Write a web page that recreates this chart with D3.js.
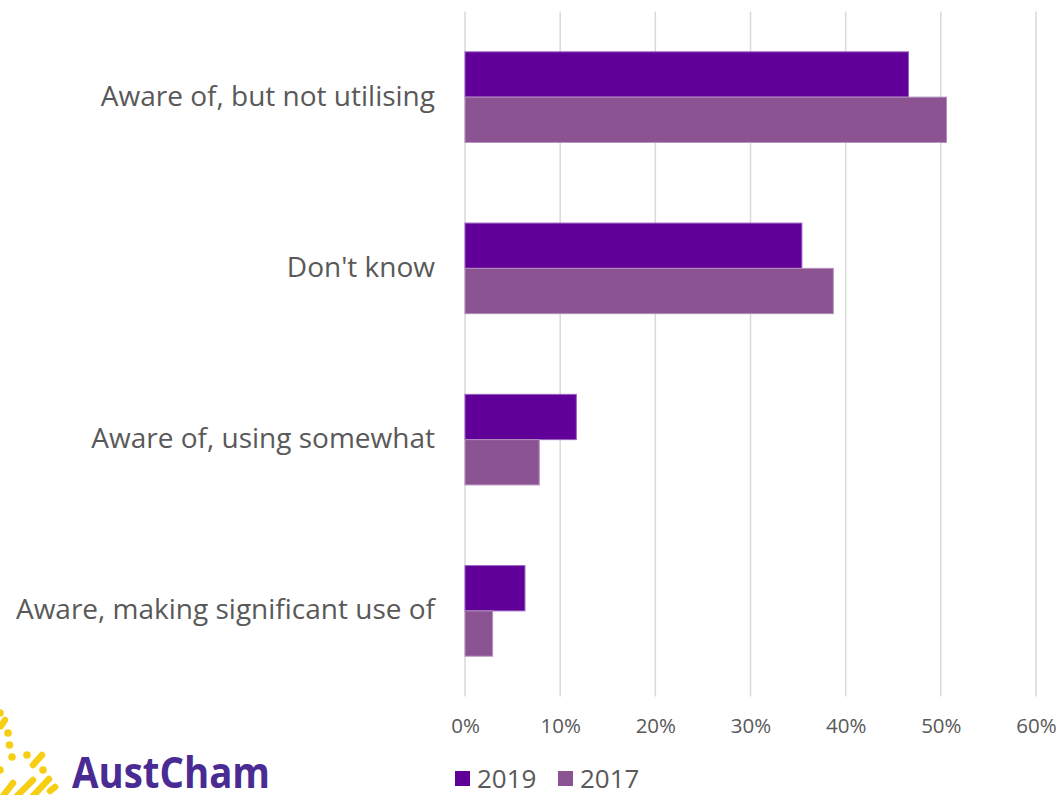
<!DOCTYPE html>
<html>
<head>
<meta charset="utf-8">
<script src="https://cdn.jsdelivr.net/npm/d3@7/dist/d3.min.js"></script>
<style>
  html, body { margin: 0; padding: 0; background: #ffffff; }
  svg { display: block; }
  text { font-family: "Open Sans", "Lato", sans-serif; }
</style>
</head>
<body>
<svg id="chart" width="1058" height="795"></svg>
<script>
// Survey responses by awareness level, share of respondents
const categories = [
  "Aware of, but not utilising",
  "Don't know",
  "Aware of, using somewhat",
  "Aware, making significant use of"
];
const seriesNames = ["2019", "2017"];
const values2019 = [0.466, 0.354, 0.117, 0.063];
const values2017 = [0.506, 0.387, 0.078, 0.029];
const xTicks = [0, 0.1, 0.2, 0.3, 0.4, 0.5, 0.6];

const fills = { "2019": "#600099", "2017": "#8b5391" };
const strokes = { "2019": "#9a63c2", "2017": "#b48fbc" };
const textColor = "#595959";

const svg = d3.select("#chart");
const plot = { left: 465, right: 1036, top: 11.5, bottom: 696.5 };

const x = d3.scaleLinear().domain([0, 0.6]).range([plot.left, plot.right]);
const y = d3.scaleBand().domain(categories).range([plot.top, plot.bottom])
  .paddingInner(0.471).paddingOuter(0.2355);
const ySub = d3.scaleBand().domain(seriesNames).range([0, y.bandwidth()]);

// vertical gridlines
svg.append("g").selectAll("line").data(xTicks).join("line")
  .attr("x1", d => x(d)).attr("x2", d => x(d))
  .attr("y1", plot.top).attr("y2", plot.bottom)
  .attr("stroke", "#d9d9d9").attr("stroke-width", 1.5);

// x axis tick labels
const xAxis = d3.axisBottom(x).tickValues(xTicks).tickFormat(d3.format(".0%")).tickSize(0).tickPadding(0);
const gx = svg.append("g").attr("transform", `translate(0, ${plot.bottom + 22})`).call(xAxis);
gx.select(".domain").remove();
gx.selectAll("text").attr("fill", textColor).attr("font-size", 20.5)
  .attr("font-family", "'Open Sans', Lato, sans-serif");

// category labels
const yAxis = d3.axisLeft(y).tickSize(0).tickPadding(0);
const gy = svg.append("g").attr("transform", `translate(435, 0)`).call(yAxis);
gy.select(".domain").remove();
gy.selectAll("text").attr("fill", textColor).attr("font-size", 28)
  .attr("font-family", "'Open Sans', Lato, sans-serif")
  .attr("dy", "0.3em");

// bars
const rows = categories.map((c, i) => ({ cat: c, vals: [
  { key: "2019", v: values2019[i] },
  { key: "2017", v: values2017[i] }
]}));
svg.append("g").selectAll("g").data(rows).join("g")
  .attr("transform", d => `translate(0, ${y(d.cat)})`)
  .selectAll("rect").data(d => d.vals).join("rect")
  .attr("x", x(0)).attr("y", d => ySub(d.key))
  .attr("width", d => x(d.v) - x(0)).attr("height", ySub.bandwidth())
  .attr("fill", d => fills[d.key])
  .attr("stroke", d => strokes[d.key]).attr("stroke-width", 1);

// legend
const legend = svg.append("g").attr("transform", "translate(455, 771)");
const legendX = [0, 103];
seriesNames.forEach((s, i) => {
  const g = legend.append("g").attr("transform", `translate(${legendX[i]}, 0)`);
  g.append("rect").attr("width", 15).attr("height", 15).attr("fill", fills[s]);
  g.append("text").attr("x", 22).attr("y", 17).attr("font-size", 26)
    .attr("fill", textColor).text(s);
});

// AustCham logo: sun rays and wordmark
const logo = svg.append("g");
const gold = "#f6cf14";
const dots = [[0, 713], [8, 733], [9.5, 745], [12, 757], [0, 770], [27, 755], [43, 770]];
logo.selectAll("circle").data(dots).join("circle")
  .attr("cx", d => d[0]).attr("cy", d => d[1]).attr("r", 3.8).attr("fill", gold);
const dashes = [
  [[1, 726], [5, 720]], [[33, 765], [42, 755]],
  [[3, 796], [13, 783]], [[17, 796], [33, 780]], [[33, 796], [49, 779]], [[50, 791], [55, 787]]
];
logo.selectAll("line").data(dashes).join("line")
  .attr("x1", d => d[0][0]).attr("y1", d => d[0][1])
  .attr("x2", d => d[1][0]).attr("y2", d => d[1][1])
  .attr("stroke", gold).attr("stroke-width", 6.5).attr("stroke-linecap", "round");
logo.append("text").attr("x", 72).attr("y", 788)
  .attr("font-family", "'Open Sans', Lato, sans-serif").attr("font-weight", 700)
  .attr("font-size", 43).attr("fill", "#4a2b93")
  .attr("textLength", 198).attr("lengthAdjust", "spacingAndGlyphs")
  .text("AustCham");
</script>
</body>
</html>
